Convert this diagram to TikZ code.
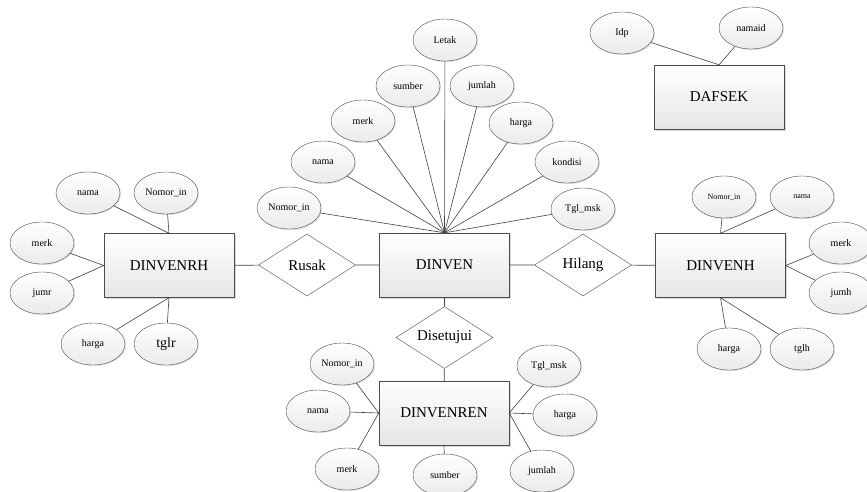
\documentclass[tikz,border=0pt]{standalone}
\usepackage{fontspec}
\setmainfont{Liberation Serif}
\usetikzlibrary{shapes}
\usetikzlibrary{shadows}
\usetikzlibrary{positioning}

\begin{document}
\begin{tikzpicture}[x=1pt, y=-1pt,
  entitas/.style={draw=black!70, rectangle, minimum width=130pt, minimum height=64pt,
    top color=white, bottom color=black!10,
    drop shadow={opacity=0.3, shadow xshift=1.5pt, shadow yshift=-1.5pt},
    font=\fontsize{15}{15}\selectfont},
  relasi/.style={draw=black!70, diamond, aspect=1.5, inner sep=0pt,
    minimum width=97pt, minimum height=62pt, fill=white,
    font=\fontsize{15}{15}\selectfont},
  atribut/.style={draw=black!70, ellipse, inner sep=0pt, minimum width=64pt,
    minimum height=42pt, top color=white, bottom color=black!8,
    drop shadow={opacity=0.25, shadow xshift=1pt, shadow yshift=-1pt},
    font=\fontsize{10}{10}\selectfont},
  garis/.style={draw=black!75, line width=0.6pt}]
  \useasboundingbox (0,0) rectangle (867,491);

  \node[entitas] (dinven)    at (444.5,265) {DINVEN};
  \node[entitas] (dinvenrh)  at (169,265.5) {DINVENRH};
  \node[entitas] (dinvenh)   at (720.5,265.5) {DINVENH};
  \node[entitas] (dinvenren) at (444,413) {DINVENREN};
  \node[entitas] (dafsek)    at (719,97) {DAFSEK};

  \node[relasi] (rusak)  at (307,265) {Rusak};
  \node[relasi] (hilang) at (583,265) {Hilang};
  \node[relasi] (setuju) at (444.5,337.5) {Disetujui};

  \draw[garis] (dinvenrh) -- (rusak) -- (dinven);
  \draw[garis] (dinven) -- (hilang) -- (dinvenh);
  \draw[garis] (dinven) -- (setuju) -- (dinvenren);

  \foreach \n/\x/\y/\t in {letak/445/40/Letak, sumber/408/86/sumber,
      jumlah/482/86/jumlah, merk/363/121/merk, harga/521/123/harga,
      nama/323/162/nama, kondisi/567/162/kondisi, nomor/289/208/Nomor\_in,
      tgl/583/209/Tgl\_msk} {
    \node[atribut] (v-\n) at (\x,\y) {\t};
    \draw[garis] (v-\n) -- (dinven.north);
  }

  \node[atribut] (d-idp)    at (622,33) {Idp};
  \node[atribut] (d-namaid) at (751,28) {namaid};
  \draw[garis] (d-idp) -- (dafsek.north) -- (d-namaid);

  \node[atribut] (rh-nama)  at (88,193) {nama};
  \node[atribut] (rh-nomor) at (166,193) {Nomor\_in};
  \node[atribut] (rh-merk)  at (42,243) {merk};
  \node[atribut] (rh-jumr)  at (42,293) {jumr};
  \node[atribut] (rh-harga) at (93,344) {harga};
  \node[atribut, font=\fontsize{14}{14}\selectfont] (rh-tglr) at (166,344) {tglr};
  \draw[garis] (rh-nama) -- (dinvenrh.north) -- (rh-nomor);
  \draw[garis] (rh-merk) -- (dinvenrh.west) -- (rh-jumr);
  \draw[garis] (rh-harga) -- (dinvenrh.south) -- (rh-tglr);

  \node[atribut, font=\fontsize{8}{8}\selectfont] (h-nomor) at (724,197) {Nomor\_in};
  \node[atribut, font=\fontsize{8}{8}\selectfont] (h-nama)  at (802,197) {nama};
  \node[atribut] (h-merk)  at (841,243) {merk};
  \node[atribut] (h-jumh)  at (841,293) {jumh};
  \node[atribut] (h-harga) at (729,349) {harga};
  \node[atribut] (h-tglh)  at (802,349) {tglh};
  \draw[garis] (h-nomor) -- (dinvenh.north) -- (h-nama);
  \draw[garis] (h-merk) -- (dinvenh.east) -- (h-jumh);
  \draw[garis] (h-harga) -- (dinvenh.south) -- (h-tglh);

  \node[atribut] (ren-nomor)  at (342,364) {Nomor\_in};
  \node[atribut] (ren-nama)   at (318,411) {nama};
  \node[atribut] (ren-merk)   at (347,469) {merk};
  \node[atribut] (ren-sumber) at (445,475) {sumber};
  \node[atribut] (ren-tgl)    at (549,366) {Tgl\_msk};
  \node[atribut] (ren-harga)  at (565,415) {harga};
  \node[atribut] (ren-jumlah) at (542,471) {jumlah};
  \draw[garis] (ren-nomor) -- (dinvenren.west) -- (ren-nama);
  \draw[garis] (ren-merk) -- (dinvenren.west);
  \draw[garis] (ren-sumber) -- (dinvenren.south);
  \draw[garis] (ren-tgl) -- (dinvenren.east) -- (ren-harga);
  \draw[garis] (ren-jumlah) -- (dinvenren.east);
\end{tikzpicture}
\end{document}
